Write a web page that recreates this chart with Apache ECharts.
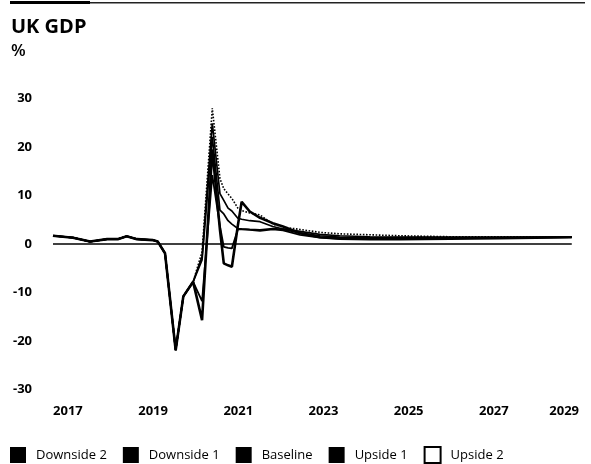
<!DOCTYPE html>
<html>
<head>
<meta charset="utf-8">
<script src="https://cdn.jsdelivr.net/npm/echarts@6/dist/echarts.min.js"></script>
<style>
  html, body { margin: 0; padding: 0; background: #fff; }
  #ukGdpChart { width: 591px; height: 464px; }
</style>
</head>
<body>
<div id="ukGdpChart"></div>
<script>
// time points (decimal years)
var dates = [2016.65, 2017.12, 2017.52, 2017.92, 2018.17, 2018.38, 2018.62, 2019.00, 2019.11, 2019.28,
  2019.53, 2019.71, 2019.94, 2020.15, 2020.39, 2020.57, 2020.66, 2020.76, 2020.85, 2020.99,
  2021.08, 2021.27, 2021.51, 2021.81, 2022.05, 2022.45, 2022.92, 2023.38, 2024.09, 2024.79,
  2025.97, 2027.14, 2028.83]

var downside2 = [1.7, 1.3, 0.5, 1.0, 1.0, 1.6, 1.0, 0.8, 0.5, -1.9,
  -21.9, -10.8, -7.8, -15.7, 19.5, 2.9, -4.0, -4.4, -4.7, 3.8,
  8.7, 6.7, 5.4, 4.3, 3.6, 2.2, 1.4, 1.1, 1.0, 1.0,
  1.1, 1.2, 1.4]
var downside1 = [1.7, 1.3, 0.5, 1.0, 1.0, 1.6, 1.0, 0.8, 0.5, -1.9,
  -21.9, -10.8, -7.8, -11.8, 14.2, 3.7, -0.6, -0.8, -0.9, 3.0,
  3.0, 2.9, 2.7, 3.0, 2.8, 1.9, 1.3, 1.1, 1.1, 1.1,
  1.2, 1.3, 1.4]
var baseline = [1.7, 1.3, 0.5, 1.0, 1.0, 1.6, 1.0, 0.8, 0.5, -1.9,
  -21.9, -10.8, -7.8, -3.3, 22.1, 7.0, 6.2, 4.8, 4.1, 3.2,
  3.1, 3.0, 2.9, 3.2, 3.0, 2.3, 1.7, 1.4, 1.3, 1.3,
  1.3, 1.3, 1.4]
var upside1 = [1.7, 1.3, 0.5, 1.0, 1.0, 1.6, 1.0, 0.8, 0.5, -1.9,
  -21.9, -10.8, -7.8, -2.6, 24.9, 10.4, 9.0, 7.4, 6.8, 5.3,
  5.1, 4.8, 4.6, 3.6, 3.1, 2.6, 2.0, 1.7, 1.5, 1.4,
  1.4, 1.4, 1.4]
var upside2 = [1.7, 1.3, 0.5, 1.0, 1.0, 1.6, 1.0, 0.8, 0.5, -1.9,
  -21.9, -10.8, -7.8, -1.6, 28.0, 13.5, 11.4, 10.3, 9.4, 7.4,
  6.9, 6.4, 6.0, 4.1, 3.5, 3.0, 2.4, 2.1, 1.9, 1.7,
  1.5, 1.5, 1.4]

var yearTicks = [2017, 2019, 2021, 2023, 2025, 2027, 2029]
var scenarioNames = ['Downside 2', 'Downside 1', 'Baseline', 'Upside 1', 'Upside 2']

var font = '"Open Sans", "Noto Sans", sans-serif'

function pairs (values) {
  var out = []
  for (var i = 0; i < dates.length; i++) {
    out.push([dates[i], values[i]])
  }
  return out
}

var chart = echarts.init(document.getElementById('ukGdpChart'))

var lineSeries = [
  { values: downside2, width: 2.6, type: 'solid' },
  { values: downside1, width: 1.8, type: 'solid' },
  { values: baseline, width: 1.7, type: 'solid' },
  { values: upside1, width: 1.7, type: 'solid' },
  { values: upside2, width: 1.6, type: 'dotted' }
]

var series = []
for (var i = 0; i < lineSeries.length; i++) {
  series.push({
    name: scenarioNames[i],
    type: 'line',
    data: pairs(lineSeries[i].values),
    showSymbol: false,
    silent: true,
    z: 10 - i,
    lineStyle: { color: '#000', width: lineSeries[i].width, type: lineSeries[i].type }
  })
}
// zero line, only as wide as the data
series[0].markLine = {
  silent: true,
  symbol: 'none',
  label: { show: false },
  lineStyle: { color: '#000', width: 1.6, type: 'solid' },
  data: [[{ coord: [dates[0], 0] }, { coord: [dates[dates.length - 1], 0] }]]
}

var option = {
  backgroundColor: '#fff',
  animation: false,
  textStyle: { fontFamily: font, color: '#000' },
  title: {
    text: 'UK GDP',
    subtext: '%',
    left: 6,
    top: 12,
    itemGap: 6,
    textStyle: { fontFamily: font, fontSize: 20, fontWeight: 'bold', color: '#000' },
    subtextStyle: { fontFamily: font, fontSize: 17, fontWeight: 600, color: '#000' }
  },
  graphic: [
    { type: 'rect', left: 10, top: 1, shape: { width: 80, height: 3 }, style: { fill: '#000' } },
    { type: 'rect', left: 90, top: 2, shape: { width: 495, height: 1.5 }, style: { fill: '#222' } }
  ],
  legend: {
    left: 10,
    top: 446,
    padding: 0,
    icon: 'rect',
    itemWidth: 16,
    itemHeight: 16,
    itemGap: 16,
    textStyle: { fontFamily: font, fontSize: 13, color: '#000', padding: [0, 0, 0, 5] },
    data: [
      { name: 'Downside 2', itemStyle: { color: '#000' } },
      { name: 'Downside 1', itemStyle: { color: '#000' } },
      { name: 'Baseline', itemStyle: { color: '#000' } },
      { name: 'Upside 1', itemStyle: { color: '#000' } },
      { name: 'Upside 2', itemStyle: { color: '#fff', borderColor: '#000', borderWidth: 2 } }
    ]
  },
  grid: { left: 53, right: 12, top: 98.5, bottom: 74.5 },
  xAxis: {
    type: 'value',
    min: dates[0],
    max: 2029,
    axisLine: { show: false },
    axisTick: { show: false },
    splitLine: { show: false },
    axisLabel: {
      customValues: yearTicks,
      alignMaxLabel: 'right',
      margin: 15,
      fontFamily: font,
      fontSize: 13,
      fontWeight: 'bold',
      color: '#000',
      formatter: function (v) { return String(Math.round(v)) }
    }
  },
  yAxis: {
    type: 'value',
    min: -30,
    max: 30,
    interval: 10,
    axisLine: { show: false },
    axisTick: { show: false },
    splitLine: { show: false },
    axisLabel: { margin: 21, fontFamily: font, fontSize: 13, fontWeight: 'bold', color: '#000' }
  },
  series: series
}

chart.setOption(option)
</script>
</body>
</html>
